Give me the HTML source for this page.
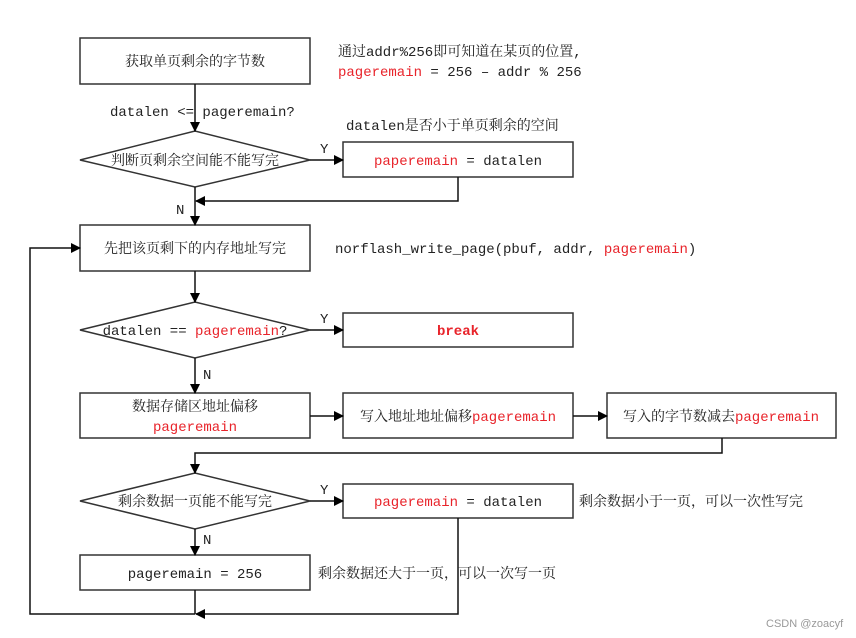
<!DOCTYPE html>
<html><head><meta charset="utf-8"><style>
html,body{margin:0;padding:0;background:#fff}
svg{display:block}
text{font-family:"Liberation Mono","Noto Serif CJK SC",monospace;font-size:14px;fill:#222}
.r{fill:#e8232a}
</style></head><body>
<svg width="856" height="638" viewBox="0 0 856 638" xmlns="http://www.w3.org/2000/svg">
<defs><marker id="a" markerWidth="10" markerHeight="10" refX="9" refY="5" orient="auto" markerUnits="userSpaceOnUse"><path d="M0,0L10,5L0,10z" fill="#000"/></marker></defs>
<g fill="none" stroke="#333" stroke-width="1.5">
<rect x="80" y="38" width="230" height="46"/>
<polygon points="80,160 195,131 310,160 195,187"/>
<rect x="80" y="225" width="230" height="46"/>
<polygon points="80,330 195,302 310,330 195,358"/>
<rect x="80" y="393" width="230" height="45"/>
<polygon points="80,501 195,473 310,501 195,529"/>
<rect x="80" y="555" width="230" height="35"/>
<rect x="343" y="142" width="230" height="35"/>
<rect x="343" y="313" width="230" height="34"/>
<rect x="343" y="393" width="230" height="45"/>
<rect x="607" y="393" width="229" height="45"/>
<rect x="343" y="484" width="230" height="34"/>
</g>
<g fill="none" stroke="#111" stroke-width="1.5">
<path d="M195,84V131" marker-end="url(#a)"/>
<path d="M310,160H343" marker-end="url(#a)"/>
<path d="M195,187V225" marker-end="url(#a)"/>
<path d="M458,177V201H196" marker-end="url(#a)"/>
<path d="M195,271V302" marker-end="url(#a)"/>
<path d="M310,330H343" marker-end="url(#a)"/>
<path d="M195,358V393" marker-end="url(#a)"/>
<path d="M310,416H343" marker-end="url(#a)"/>
<path d="M573,416H607" marker-end="url(#a)"/>
<path d="M722,438V453H195V473" marker-end="url(#a)"/>
<path d="M310,501H343" marker-end="url(#a)"/>
<path d="M195,529V555" marker-end="url(#a)"/>
<path d="M195,590V614"/>
<path d="M458,518V614H196" marker-end="url(#a)"/>
<path d="M195,614H30V248H80" marker-end="url(#a)"/>
</g>
<g text-anchor="middle">
<text x="195" y="66">获取单页剩余的字节数</text>
<text x="195" y="165">判断页剩余空间能不能写完</text>
<text x="195" y="253">先把该页剩下的内存地址写完</text>
<text x="195" y="335">datalen == <tspan class="r">pageremain</tspan>?</text>
<text x="195" y="411">数据存储区地址偏移</text>
<text x="195" y="431" class="r">pageremain</text>
<text x="195" y="506">剩余数据一页能不能写完</text>
<text x="195" y="578">pageremain = 256</text>
<text x="458" y="165"><tspan class="r">paperemain</tspan> = datalen</text>
<text x="458" y="335" class="r" font-weight="bold">break</text>
<text x="458" y="421">写入地址地址偏移<tspan class="r">pageremain</tspan></text>
<text x="721" y="421">写入的字节数减去<tspan class="r">pageremain</tspan></text>
<text x="458" y="506"><tspan class="r">pageremain</tspan> = datalen</text>
</g>
<text x="110" y="116">datalen &lt;= pageremain?</text>
<text x="338" y="56">通过addr%256即可知道在某页的位置,</text>
<text x="338" y="76"><tspan class="r">pageremain</tspan> = 256 – addr % 256</text>
<text x="346" y="130">datalen是否小于单页剩余的空间</text>
<text x="335" y="253">norflash_write_page(pbuf, addr, <tspan class="r">pageremain</tspan>)</text>
<text x="579" y="506">剩余数据小于一页，可以一次性写完</text>
<text x="318" y="578">剩余数据还大于一页，可以一次写一页</text>
<text x="320" y="153">Y</text>
<text x="320" y="323">Y</text>
<text x="320" y="494">Y</text>
<text x="176" y="214">N</text>
<text x="203" y="379">N</text>
<text x="203" y="544">N</text>
<text x="766" y="627" style="font-family:'Liberation Sans',sans-serif;font-size:11px;fill:#999">CSDN @zoacyf</text>
</svg>
</body></html>
